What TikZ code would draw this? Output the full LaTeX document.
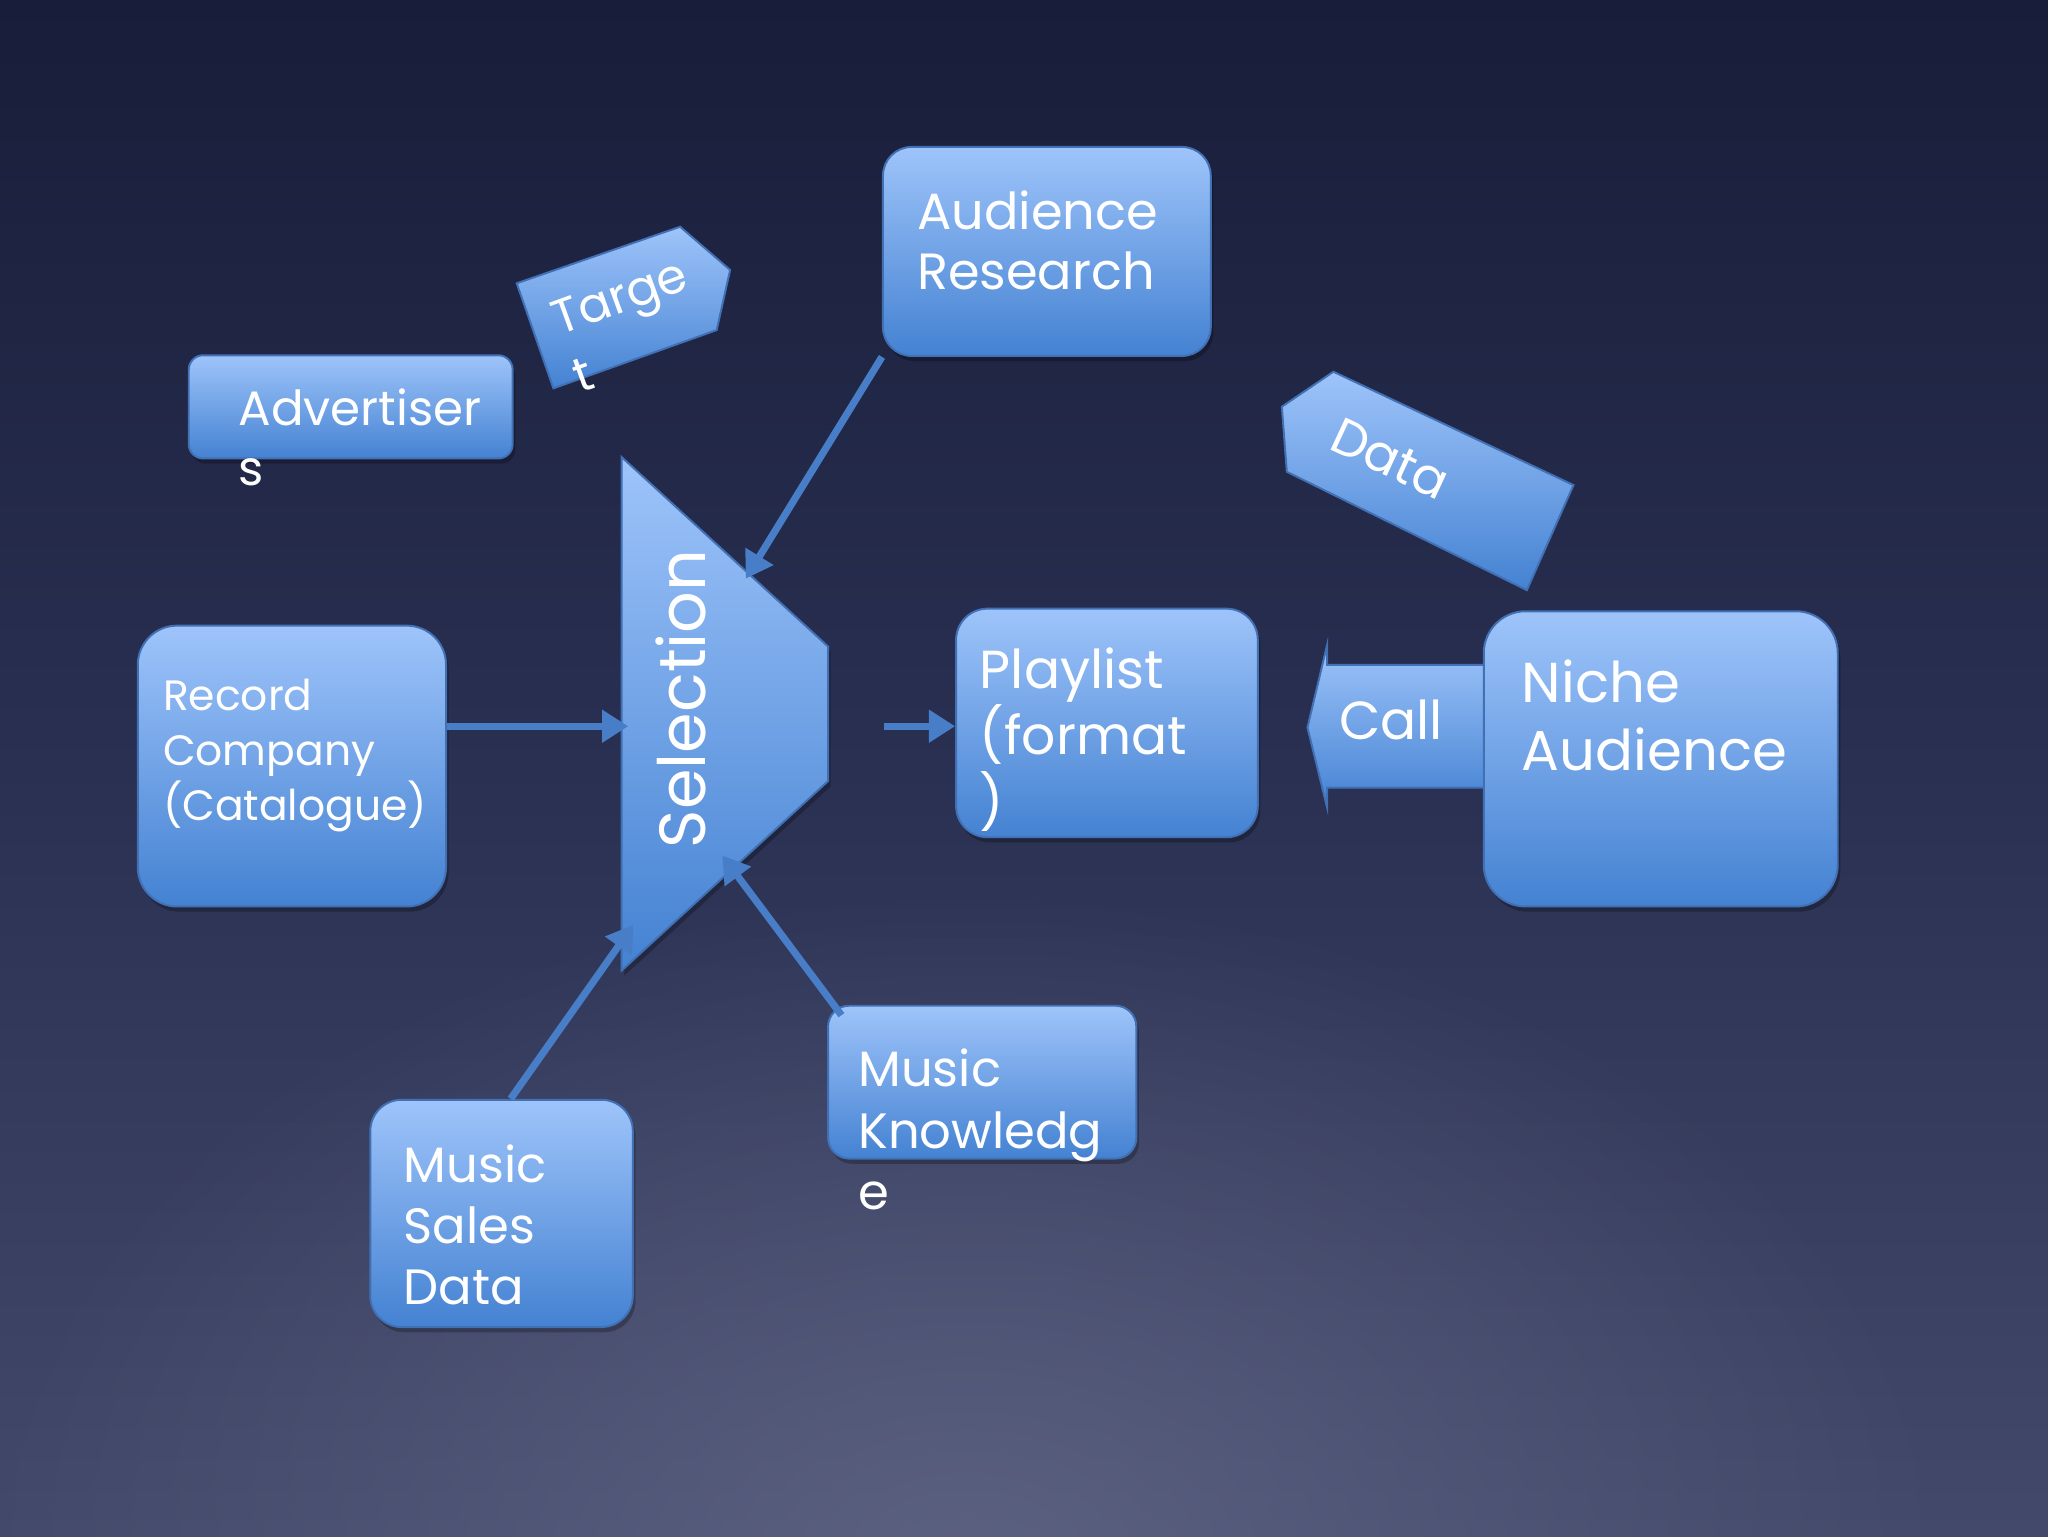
\documentclass[tikz,border=0pt]{standalone}
\usepackage{fontspec}
\setmainfont{Poppins}
\usetikzlibrary{arrows.meta,calc,fadings,shadows}
\definecolor{bgtop}{RGB}{24,29,57}
\definecolor{bgmid}{RGB}{42,48,82}
\definecolor{bgbot}{RGB}{66,73,106}
\definecolor{bgglow}{RGB}{98,103,135}
\definecolor{boxtop}{RGB}{158,196,250}
\definecolor{boxbot}{RGB}{68,130,210}
\definecolor{boxline}{RGB}{66,112,180}
\definecolor{arrowc}{RGB}{72,126,200}
\newcommand\ml[1]{\vtop{\halign{##\hfil\cr#1\crcr}}}
\newcommand\fsz[2]{\fontsize{#1}{#2}\selectfont}
\tikzfading[name=glowfade, inner color=transparent!0, outer color=transparent!100]
\begin{document}
\begin{tikzpicture}[x=1pt,y=-1pt,
  box/.style={draw=boxline, line width=1.5pt, top color=boxtop, bottom color=boxbot, inner sep=0pt,
    drop shadow={shadow xshift=2pt, shadow yshift=-4pt, opacity=0.25, fill=black}},
  tagshape/.style={draw=boxline, line width=1.5pt, top color=boxtop, bottom color=boxbot},
  txt/.style={text=white, inner sep=0pt, anchor=base west},
  conn/.style={draw=arrowc, line width=5.5pt, -{Triangle[length=20pt,width=24pt]}}]
\useasboundingbox (0,0) rectangle (1568,1176);
% background
\shade[top color=bgtop, bottom color=bgbot, middle color=bgmid] (0,0) rectangle (1568,1176);
\fill[bgglow, path fading=glowfade, fill opacity=0.8] (740,1200) ellipse [x radius=760, y radius=520];

% Selection trapezoid
\coordinate (s1) at (476,350);
\coordinate (s2) at (634,495);
\coordinate (s3) at (634,598);
\coordinate (s4) at (476,743);
\path[tagshape, drop shadow={shadow xshift=2pt, shadow yshift=-4pt, opacity=0.25, fill=black}] (s1) -- (s2) -- (s3) -- (s4) -- cycle;
\node[text=white, rotate=90, font=\fsz{50}{58}, inner sep=0pt] (sel) at (521,535) {Selection};

% boxes
\node[box, minimum width=251pt, minimum height=160pt, rounded corners=22pt] (ar) at (801.5,192.5) {};
\node[box, minimum width=248pt, minimum height=79pt, rounded corners=11pt] (adv) at (268.5,311.5) {};
\node[box, minimum width=236pt, minimum height=215pt, rounded corners=30pt] (rc) at (223.5,586.5) {};
\node[box, minimum width=231pt, minimum height=175pt, rounded corners=24pt] (pl) at (847.5,553.5) {};
\node[box, minimum width=201pt, minimum height=174pt, rounded corners=24pt] (msd) at (384,929) {};
\node[box, minimum width=236pt, minimum height=117pt, rounded corners=16pt] (mk) at (752,828.5) {};

% Call arrow (drawn before Niche box)
\path[tagshape] (1001,557) -- (1016,494) -- (1016,509) -- (1138,509) -- (1138,603) -- (1016,603) -- (1016,618) -- cycle;
\node[text=white, font=\fsz{41}{50}, inner sep=0pt] (call) at (1065,551) {Call};
\node[box, minimum width=271pt, minimum height=226pt, rounded corners=32pt] (na) at (1271.5,581) {};

% Target tag
\path[tagshape] (395.6,216.9) -- (520.7,173.6) -- (559,206.7) -- (548.7,252.7) -- (423.7,297.3) -- cycle;
\node[txt, rotate=20, font=\fsz{37}{47}] (tgt) at (428.5,257) {\ml{Targe\cr t}};

% Data tag
\path[tagshape] (981.4,311.4) -- (1020.9,284.6) -- (1204.7,371.4) -- (1169,451.8) -- (985.2,361.2) -- cycle;
\node[txt, rotate=-25, font=\fsz{39}{48}] (data) at (1015.8,343.3) {Data};

% texts
\node[txt, font=\fsz{39}{46}] (ar-t) at (702,176) {\ml{Audience\cr Research}};
\node[txt, font=\fsz{37}{46}] (adv-t) at (182.5,325.4) {\ml{Advertiser\cr s}};
\node[txt, font=\fsz{32.5}{42}] (rc-t) at (124.6,544) {\ml{Record\cr Company\cr (Catalogue)}};
\node[txt, font=\fsz{41}{51}] (pl-t) at (750,527) {\ml{Playlist\cr (format\cr )}};
\node[txt, font=\fsz{43}{52}] (na-t) at (1165,538) {\ml{Niche\cr Audience}};
\node[txt, font=\fsz{38}{47}] (msd-t) at (309,905) {\ml{Music\cr Sales\cr Data}};
\node[txt, font=\fsz{38}{47}] (mk-t) at (657,832) {\ml{Music\cr Knowledg\cr e}};

% connector end points on the Selection shape
\coordinate (selA) at (571,443);
\coordinate (selB) at (481,556);
\coordinate (selC) at (485,708);
\coordinate (selD) at (553,655);
\coordinate (selE) at (677,556);

\draw[conn] (ar.south west) -- (selA);
\draw[conn] (rc.east |- selB) -- (selB);
\draw[conn] ($(msd.north)+(7,0)$) -- (selC);
\draw[conn] ($(mk.north west)+(11,8)$) -- (selD);
\draw[conn] (selE) -- (pl.west |- selE);
\end{tikzpicture}
\end{document}
